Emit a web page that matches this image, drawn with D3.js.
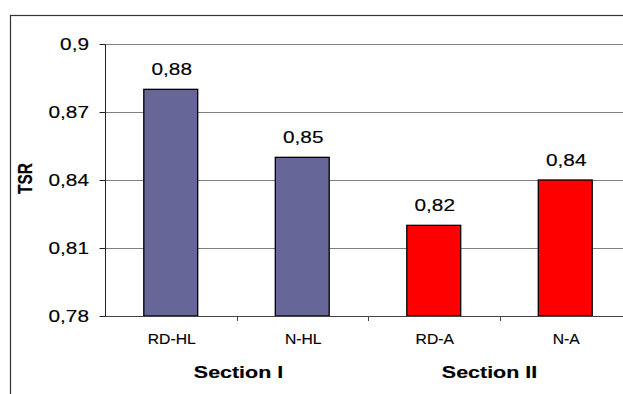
<!DOCTYPE html>
<html>
<head>
<meta charset="utf-8">
<script src="https://cdn.jsdelivr.net/npm/d3@7"></script>
<style>
  html, body { margin: 0; padding: 0; background: #fff; }
  svg { display: block; }
  text { font-family: "Liberation Sans", Arial, sans-serif; fill: #000; stroke: #000; stroke-width: 0.15px; }
</style>
</head>
<body>
<div id="chart"></div>
<script>
// TSR per configuration, two sections
const categories = ["RD-HL", "N-HL", "RD-A", "N-A"];
const values = [0.88, 0.85, 0.82, 0.84];
const valueLabels = ["0,88", "0,85", "0,82", "0,84"];
const sections = ["Section I", "Section I", "Section II", "Section II"];
const sectionNames = ["Section I", "Section II"];
const yTicks = [0.78, 0.81, 0.84, 0.87, 0.9];
const yTickLabels = ["0,78", "0,81", "0,84", "0,87", "0,9"];
const yTitle = "TSR";

const sectionColor = { "Section I": "#666699", "Section II": "#ff0000" };

const W = 623, H = 394;
const plot = { left: 105, right: 631, top: 44, bottom: 316 };
const SX = 1.3;   // wide lettering of the chart text

const svg = d3.select("#chart").append("svg")
  .attr("width", W).attr("height", H);

// chart frame
svg.append("rect")
  .attr("x", 10.5).attr("y", 15.5)
  .attr("width", W + 20).attr("height", H + 20)
  .attr("fill", "none").attr("stroke", "#333").attr("stroke-width", 1.2);

const y = d3.scaleLinear().domain([0.78, 0.9]).range([plot.bottom, plot.top]);
const x = d3.scaleBand().domain(categories)
  .range([plot.left, plot.right])
  .paddingInner(0.59).paddingOuter(0.295);
const xSlot = d3.scaleBand().domain(categories)
  .range([plot.left, plot.right]).padding(0);

// stretched text helper
function label(g, txt, px, py, size, weight, anchor, sx) {
  return g.append("text")
    .attr("transform", `translate(${px},${py}) scale(${sx},1)`)
    .attr("text-anchor", anchor)
    .style("font-size", size + "px")
    .style("font-weight", weight)
    .text(txt);
}

// horizontal gridlines
svg.append("g").selectAll("line")
  .data(yTicks.filter(v => v > 0.78))
  .join("line")
  .attr("x1", plot.left).attr("x2", W)
  .attr("y1", d => Math.round(y(d)) + 0.5).attr("y2", d => Math.round(y(d)) + 0.5)
  .attr("stroke", "#808080").attr("stroke-width", 1);

// y axis
const yAxis = svg.append("g")
  .attr("transform", `translate(${plot.left + 0.5},0.5)`)
  .call(d3.axisLeft(y).tickValues(yTicks).tickSize(6).tickFormat(""));
yAxis.select(".domain").attr("stroke", "#222").attr("d", `M0,${y(0.9)}V${y(0.78)}`);
yAxis.selectAll(".tick line").attr("stroke", "#222");
yAxis.selectAll(".tick").attr("transform", d => `translate(0,${Math.round(y(d))})`);

const tickText = svg.append("g");
yTicks.forEach((v, i) => {
  label(tickText, yTickLabels[i], 89, Math.round(y(v)) + 6, 16, "normal", "end", SX);
});

// bars
svg.append("g").selectAll("rect")
  .data(categories)
  .join("rect")
  .attr("x", d => x(d))
  .attr("y", (d, i) => y(values[i]))
  .attr("width", x.bandwidth())
  .attr("height", (d, i) => y(0.78) - y(values[i]))
  .attr("fill", (d, i) => sectionColor[sections[i]])
  .attr("stroke", "#000").attr("stroke-width", 1.3);

// x axis
const xAxisG = svg.append("g");
xAxisG.append("line")
  .attr("x1", plot.left).attr("x2", W)
  .attr("y1", Math.round(y(0.78)) + 0.5).attr("y2", Math.round(y(0.78)) + 0.5)
  .attr("stroke", "#444").attr("stroke-width", 1);
xAxisG.selectAll("line.tick")
  .data(categories.slice(1))
  .join("line").attr("class", "tick")
  .attr("x1", d => Math.round(xSlot(d)) + 0.5).attr("x2", d => Math.round(xSlot(d)) + 0.5)
  .attr("y1", Math.round(y(0.78))).attr("y2", Math.round(y(0.78)) + 5)
  .attr("stroke", "#444");

// value labels
const vl = svg.append("g");
categories.forEach((c, i) => {
  label(vl, valueLabels[i], x(c) + x.bandwidth() / 2 + 1, y(values[i]) - 14, 16, "normal", "middle", SX);
});

// category labels
const cl = svg.append("g");
categories.forEach(c => {
  label(cl, c, x(c) + x.bandwidth() / 2 + 1, 344, 14, "normal", "middle", 1.12);
});

// section labels, centred under each pair of categories
const secNudge = [2, -10];
const sl = svg.append("g");
sectionNames.forEach((s, k) => {
  const members = categories.filter((c, i) => sections[i] === s);
  const cx = d3.mean(members, c => xSlot(c) + xSlot.bandwidth() / 2) + secNudge[k];
  label(sl, s, cx, 378, 16.5, "bold", "middle", 1.3);
});

// y title
svg.append("text")
  .attr("transform", `translate(31.5,${(plot.top + plot.bottom) / 2 - 1.5}) scale(1.25,1) rotate(-90)`)
  .attr("text-anchor", "middle")
  .style("font-size", "15.5px").style("font-weight", "bold")
  .text(yTitle);
</script>
</body>
</html>
